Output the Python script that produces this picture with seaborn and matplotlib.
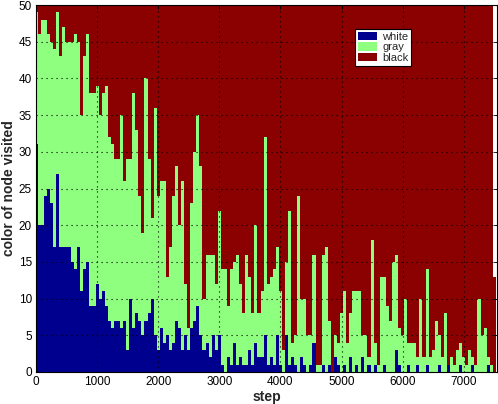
import numpy as np
import pandas as pd
import matplotlib
matplotlib.use('Agg')
import matplotlib.pyplot as plt
import seaborn as sns
from matplotlib.patches import Patch

# one bar per 50 steps, counts of the 50 nodes by colour
steps = list(range(0, 7501, 50))

white = [31, 20, 20, 24, 25, 23, 17, 27, 17, 17, 17, 17, 15, 14, 17, 11, 14, 15, 9, 9,
         12, 10, 11, 9, 7, 6, 7, 7, 6, 7, 3, 10, 6, 8, 7, 5, 7, 8, 10, 5,
         3, 6, 4, 5, 3, 4, 7, 6, 3, 5, 3, 6, 7, 9, 5, 3, 4, 2, 5, 3,
         5, 1, 0, 2, 1, 4, 1, 2, 1, 1, 3, 1, 4, 2, 2, 5, 1, 2, 1, 5,
         1, 0, 5, 1, 2, 1, 0, 2, 1, 0, 1, 4, 0, 0, 1, 0, 1, 0, 2, 1,
         0, 1, 0, 2, 0, 1, 0, 2, 0, 1, 0, 1, 0, 0, 1, 0, 0, 0, 3, 1,
         0, 0, 1, 0, 0, 1, 0, 0, 1, 0, 0, 0, 1, 0, 0, 1, 0, 0, 0, 1,
         0, 0, 0, 1, 0, 0, 0, 0, 1, 0, 0]

gray = [18, 26, 28, 24, 21, 22, 27, 22, 26, 30, 28, 28, 30, 32, 28, 24, 29, 31, 29, 29,
        27, 25, 27, 30, 25, 25, 22, 22, 29, 19, 26, 19, 32, 25, 17, 14, 33, 21, 11, 31,
        21, 20, 22, 8, 14, 20, 21, 14, 23, 7, 3, 17, 23, 26, 23, 7, 12, 14, 11, 9,
        17, 13, 14, 7, 13, 11, 15, 10, 7, 15, 10, 7, 16, 6, 9, 27, 11, 11, 13, 12,
        10, 3, 10, 21, 2, 4, 24, 8, 9, 5, 4, 12, 1, 1, 15, 17, 6, 0, 3, 3,
        8, 10, 4, 6, 11, 10, 11, 3, 5, 1, 18, 3, 1, 13, 12, 9, 7, 15, 13, 5,
        5, 10, 3, 4, 4, 1, 10, 2, 13, 2, 3, 7, 4, 2, 8, 0, 2, 1, 3, 3,
        2, 1, 3, 1, 1, 10, 5, 6, 1, 1, 0]

# nodes counted per step (last step only partly recorded)
totals = [50] * 150 + [13]

black = [t - w - g for t, w, g in zip(totals, white, gray)]

BLUE = '#00008F'
GREEN = '#8FFF80'
RED = '#8B0000'

sns.set_theme(style='white')
plt.rcParams['font.family'] = ['Liberation Sans', 'DejaVu Sans']

df = pd.DataFrame({'step': steps, 'white': white, 'gray': gray, 'black': black})
df['upto_gray'] = df['white'] + df['gray']
df['upto_black'] = df['upto_gray'] + df['black']

fig = plt.figure(figsize=(4.98, 4.04), dpi=100)
ax = fig.add_axes([36 / 498, 1 - 372 / 404, 461 / 498, 367 / 404])

# stacked look: draw cumulative heights from the tallest down
for col, c in [('upto_black', RED), ('upto_gray', GREEN), ('white', BLUE)]:
    sns.barplot(data=df, x='step', y=col, native_scale=True, width=1, color=c,
                saturation=1, linewidth=0, antialiased=False, errorbar=None, ax=ax)

ax.set_xlim(0, 7545)
ax.set_ylim(0, 50)
ax.set_xticks(range(0, 7001, 1000))
ax.set_yticks(range(0, 51, 5))
ax.grid(True, linestyle=(0, (1, 3.5)), color='black', linewidth=0.8)
ax.set_axisbelow(False)
for s in ax.spines.values():
    s.set_visible(True)
    s.set_color('black')
    s.set_linewidth(0.8)
ax.tick_params(direction='in', top=True, right=True, length=3, width=0.6,
               labelsize=8.5, colors='black', pad=3)
ax.set_xlabel('step', fontsize=10, fontweight='bold', labelpad=1)
ax.set_ylabel('color of node visited', fontsize=10, fontweight='bold', labelpad=2)

handles = [Patch(facecolor=BLUE, edgecolor='none', label='white'),
           Patch(facecolor=GREEN, edgecolor='none', label='gray'),
           Patch(facecolor=RED, edgecolor='none', label='black')]
leg = ax.legend(handles=handles, loc='upper left', bbox_to_anchor=(0.692, 0.935),
                borderaxespad=0, fontsize=8, fancybox=False, framealpha=1,
                edgecolor='black', handlelength=1.7, handleheight=0.8,
                labelspacing=0.05, borderpad=0.25, handletextpad=0.5)
leg.get_frame().set_linewidth(0.8)

fig.savefig('out.png', dpi=100)
